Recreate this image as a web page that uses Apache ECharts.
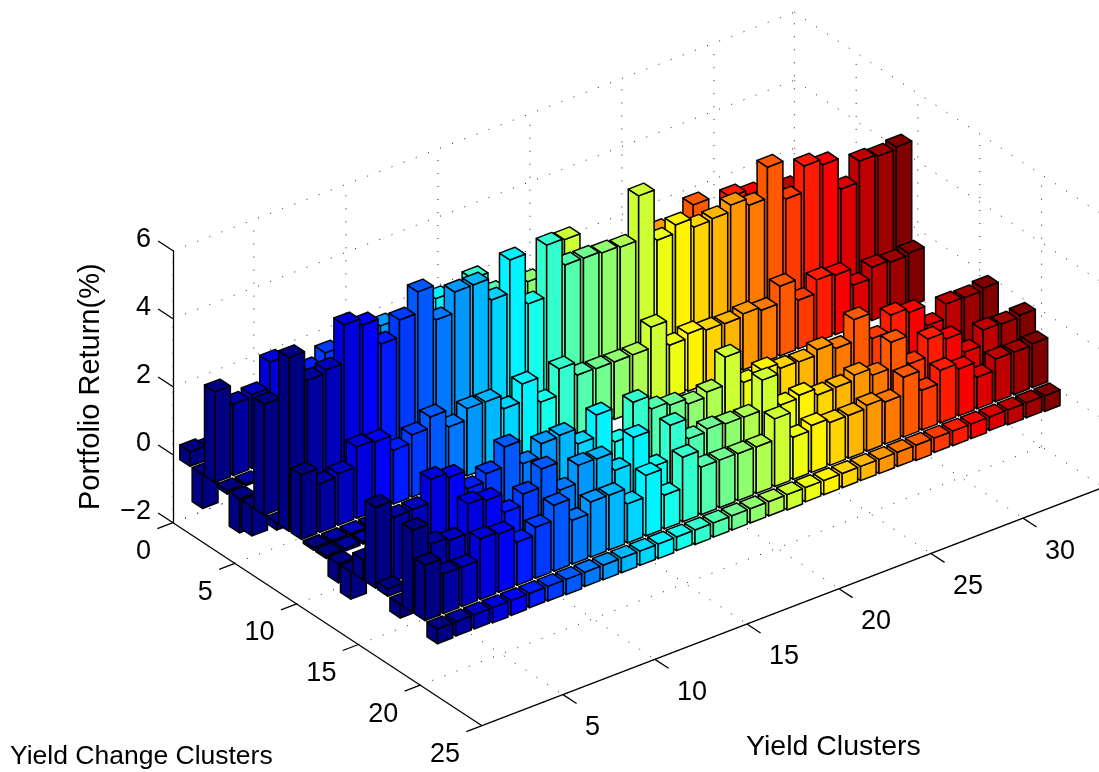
<!DOCTYPE html>
<html>
<head>
<meta charset="utf-8">
<style>html,body{margin:0;padding:0;background:#fff}#c{width:1099px;height:772px}</style>
<script src="https://cdn.jsdelivr.net/npm/echarts@6/dist/echarts.min.js"></script>
</head>
<body>
<div id="c"></div>
<script>
// ---- data (Yield Cluster = column 1..34, Yield Change Cluster = row position) ----
var zTicks = [-2, 0, 2, 4, 6];
var xTicks = [5, 10, 15, 20, 25, 30];
var yTicks = [0, 5, 10, 15, 20, 25];
var _ = null;

var row1 = [0.43, 0.35];
var row2 = [-1.0];
var row3 = [2.67,2.10,2.17,2.92,_,2.28,2.57,_,_,2.74,_,_,2.92,_,3.09,2.45,_,2.38,_,3.20,_,_,_,_,2.40,_,2.77,_,2.59,2.44,_,2.21];
var row4 = [-0.10,-0.06,-0.05];
var row5 = [-1.0];
var row6 = [-0.85];
var row7 = [3.26];
var row8 = [-0.2];
var row9 = [5.11,4.24,4.33,5.45,5.24,4.47,4.97,5.59,4.56,5.17,5.17,4.52,5.49,3.99,5.51,4.72,4.71,4.66,4.62,5.92,4.41,4.65,4.38,4.42,4.61,4.40,5.31,4.17,4.93,4.76,3.84,4.45,4.39,4.45];
var row10 = [1.90,1.43,1.52,2.10,2.04,1.59,1.83,2.15,1.65,1.98,1.97,1.56,2.08,1.34,2.11,1.72,1.70,1.69,1.69,2.30,1.56,1.69,1.59,1.57,1.65,1.55,2.05,1.43,1.82,1.75,1.25,1.57,1.51,1.57];
var row11 = [-0.08,-0.08,-0.07,-0.07];
var row12 = [-0.08,-0.08,-0.07];
var row13 = [-0.56];
var row14 = [-0.80];
var row15 = [0.60];
var row16 = [2.38,1.88,1.90,2.58,2.43,1.89,2.12,2.70,2.00,2.38,2.42,1.96,2.60,1.60,2.56,2.16,2.06,1.89,2.03,2.85,1.90,2.06,1.90,1.88,2.03,1.86,2.50,1.74,2.22,2.09,1.50,1.92,1.90,1.97];
var row17 = [0.22];
var row18 = [-0.40];
var row19 = [2.42,1.81,1.71,2.57,2.47,1.91,2.24,2.77,1.94,2.46,2.44,1.90,2.66,1.58,2.60,2.00,2.08,2.02,2.01,2.89,1.95,2.03,1.83,1.85,2.00,1.79,2.55,1.71,2.23,2.03,1.43,1.87,1.84,1.89];
var row20 = [1.63,1.17,1.16,1.78,1.72,1.27,1.50,1.94,1.29,1.62,1.61,1.15,1.78,0.99,1.90,1.40,1.40,1.38,1.37,1.99,1.24,1.38,1.26,1.26,1.35,1.24,1.76,1.17,1.55,1.38,0.93,1.26,1.25,1.29];
var row21 = [-0.44,-0.42,-0.42,-0.45,-0.44,-0.42,-0.43,-0.45,-0.42,-0.43,-0.43,-0.42,-0.43,-0.40,-0.43,-0.42,-0.42,-0.42,-0.42,-0.45,-0.42,-0.42,-0.42,-0.42,-0.42,-0.42,-0.45,-0.42,-0.43,-0.43,-0.40,-0.44,-0.44,-0.46];
var rowsByPosition = [row1,row2,row3,row4,row5,row6,row7,row8,row9,row10,row11,row12,row13,row14,row15,row16,row17,row18,row19,row20,row21];

// ---- view of the 3-D box ----
var X_MIN = 0.6, X_MAX = 34.37, Y_MIN = 0, Y_MAX = 25, Z_MIN = -2, Z_MAX = 6, COLS = 34;
var PX_X = 18.4, PX_Z = 34;                 // px per unit on grid axes
var VX_H = 1, VX_V = 7.06 / PX_Z;           // x direction, in grid units
var VY_H = 12.36 / PX_X, VY_V = 8.12 / PX_Z; // y direction, in grid units
var HALF = 0.42;

function proj(x, y, z) {
  return [(x - X_MIN) * VX_H + (y - Y_MIN) * VY_H, z + (x - X_MIN) * VX_V - (y - Y_MIN) * VY_V];
}
function jet(c) {
  function f(v) { return Math.round(Math.max(0, Math.min(1, v)) * 255); }
  return 'rgb(' + f(1.5 - Math.abs(4 * c - 3)) + ',' + f(1.5 - Math.abs(4 * c - 2)) + ',' + f(1.5 - Math.abs(4 * c - 1)) + ')';
}

// back to front painter order
var barData = [];
rowsByPosition.forEach(function (vals, r) {
  for (var i = vals.length - 1; i >= 0; i--) {
    if (vals[i] !== null && vals[i] !== undefined) barData.push([i + 1, r + 1, vals[i]]);
  }
});

// dotted box lines
var gridData = [];
xTicks.forEach(function (t) {
  gridData.push([t, Y_MIN, Z_MIN, t, Y_MIN, Z_MAX]);
  gridData.push([t, Y_MIN, Z_MIN, t, Y_MAX, Z_MIN]);
});
yTicks.forEach(function (t) {
  gridData.push([X_MAX, t, Z_MIN, X_MAX, t, Z_MAX]);
  gridData.push([X_MIN, t, Z_MIN, X_MAX, t, Z_MIN]);
});
zTicks.forEach(function (t) {
  gridData.push([X_MIN, Y_MIN, t, X_MAX, Y_MIN, t]);
  gridData.push([X_MAX, Y_MIN, t, X_MAX, Y_MAX, t]);
});
gridData.push([X_MIN, Y_MIN, Z_MIN, X_MIN, Y_MIN, Z_MAX]);

// axis furniture: kind, value
var axisData = [];
xTicks.forEach(function (t) { axisData.push(['x', t]); });
yTicks.forEach(function (t) { axisData.push(['y', t]); });
zTicks.forEach(function (t) { axisData.push(['z', t]); });
axisData.push(['lx', 0]);
axisData.push(['ly', 0]);

var FONT = '"Liberation Sans", Arial, Helvetica, sans-serif';
var SIZE = 27;

var chart = echarts.init(document.getElementById('c'), null, { renderer: 'canvas' });

function pt(api, x, y, z) { return api.coord(proj(x, y, z)); }

chart.setOption({
  animation: false,
  backgroundColor: '#fff',
  grid: { left: 173, top: 250.7, width: (X_MAX - X_MIN) * PX_X, height: (Z_MAX - Z_MIN) * PX_Z, containLabel: false },
  xAxis: { type: 'value', show: false, min: 0, max: X_MAX - X_MIN },
  yAxis: {
    type: 'value', min: Z_MIN, max: Z_MAX, interval: 2,
    axisLine: { show: true, onZero: false, lineStyle: { color: '#000', width: 1.3 } },
    axisTick: { show: false },
    splitLine: { show: false },
    axisLabel: {
      color: '#000', fontFamily: FONT, fontSize: SIZE, margin: 22, verticalAlign: 'bottom', lineHeight: 23,
      formatter: function (v) { return String(v).replace('-', '\u2212'); }
    },
    name: 'Portfolio Return(%)', nameLocation: 'middle', nameRotate: 90, nameGap: 68,
    nameTextStyle: { color: '#000', fontFamily: FONT, fontSize: 29 }
  },
  graphic: [
    { type: 'text', left: 746, top: 733, style: { text: 'Yield Clusters', fill: '#000', font: '28.5px ' + FONT } },
    { type: 'text', left: 10, top: 743, style: { text: 'Yield Change Clusters', fill: '#000', font: '26.5px ' + FONT } }
  ],
  series: [
    {
      type: 'custom', name: 'grid', coordinateSystem: 'cartesian2d', clip: false, silent: true, z: 1,
      data: gridData,
      renderItem: function (params, api) {
        var a = pt(api, api.value(0), api.value(1), api.value(2));
        var b = pt(api, api.value(3), api.value(4), api.value(5));
        return { type: 'line', shape: { x1: a[0], y1: a[1], x2: b[0], y2: b[1] },
          style: { stroke: '#222', lineWidth: 1, lineDash: [1, 12] } };
      }
    },
    {
      type: 'custom', name: 'Portfolio Return', coordinateSystem: 'cartesian2d', clip: false, silent: true, z: 2,
      data: barData,
      renderItem: function (params, api) {
        var x = api.value(0), y = api.value(1), v = api.value(2);
        var hi = Math.max(v, 0), lo = Math.min(v, 0);
        var xa = x - HALF, xb = x + HALF, ya = y - HALF, yb = y + HALF;
        var col = jet((x - 1) / (COLS - 1));
        var sty = { fill: col, stroke: '#000', lineWidth: 1.5, lineJoin: 'round' };
        function poly(ps) { return { type: 'polygon', shape: { points: ps }, style: sty }; }
        return { type: 'group', children: [
          poly([pt(api, xa, ya, lo), pt(api, xa, yb, lo), pt(api, xa, yb, hi), pt(api, xa, ya, hi)]),
          poly([pt(api, xa, yb, lo), pt(api, xb, yb, lo), pt(api, xb, yb, hi), pt(api, xa, yb, hi)]),
          poly([pt(api, xa, ya, hi), pt(api, xa, yb, hi), pt(api, xb, yb, hi), pt(api, xb, ya, hi)])
        ] };
      }
    },
    {
      type: 'custom', name: 'axes', coordinateSystem: 'cartesian2d', clip: false, silent: true, z: 3,
      data: axisData.map(function (d, i) { return [i, d[1]]; }),
      renderItem: function (params, api) {
        var item = axisData[params.dataIndex], kind = item[0], t = item[1];
        var ls = { stroke: '#000', lineWidth: 1.3 };
        var a, b;
        if (kind === 'lx') {
          a = pt(api, X_MIN, Y_MAX, Z_MIN); b = pt(api, X_MAX, Y_MAX, Z_MIN);
          return { type: 'line', shape: { x1: a[0], y1: a[1], x2: b[0], y2: b[1] }, style: ls };
        }
        if (kind === 'ly') {
          a = pt(api, X_MIN, Y_MIN, Z_MIN); b = pt(api, X_MIN, Y_MAX, Z_MIN);
          return { type: 'line', shape: { x1: a[0], y1: a[1], x2: b[0], y2: b[1] }, style: ls };
        }
        var e, txt;
        if (kind === 'x') {
          a = pt(api, t, Y_MAX, Z_MIN); e = pt(api, t, Y_MAX + 1.1, Z_MIN);
          txt = { type: 'text', x: a[0] + 22, y: a[1] + 33, style: { text: String(t), fill: '#000', font: SIZE + 'px ' + FONT, textAlign: 'left', textVerticalAlign: 'middle' } };
        } else if (kind === 'y') {
          a = pt(api, X_MIN, t, Z_MIN); e = pt(api, X_MIN - 0.85, t, Z_MIN);
          txt = { type: 'text', x: a[0] - 22, y: a[1] + 29, style: { text: String(t), fill: '#000', font: SIZE + 'px ' + FONT, textAlign: 'right', textVerticalAlign: 'middle' } };
        } else {
          a = pt(api, X_MIN, Y_MIN, t); e = pt(api, X_MIN, Y_MIN - 1.2, t);
          return { type: 'line', shape: { x1: a[0], y1: a[1], x2: e[0], y2: e[1] }, style: ls };
        }
        return { type: 'group', children: [
          { type: 'line', shape: { x1: a[0], y1: a[1], x2: e[0], y2: e[1] }, style: ls },
          txt
        ] };
      }
    }
  ]
});
</script>
</body>
</html>
